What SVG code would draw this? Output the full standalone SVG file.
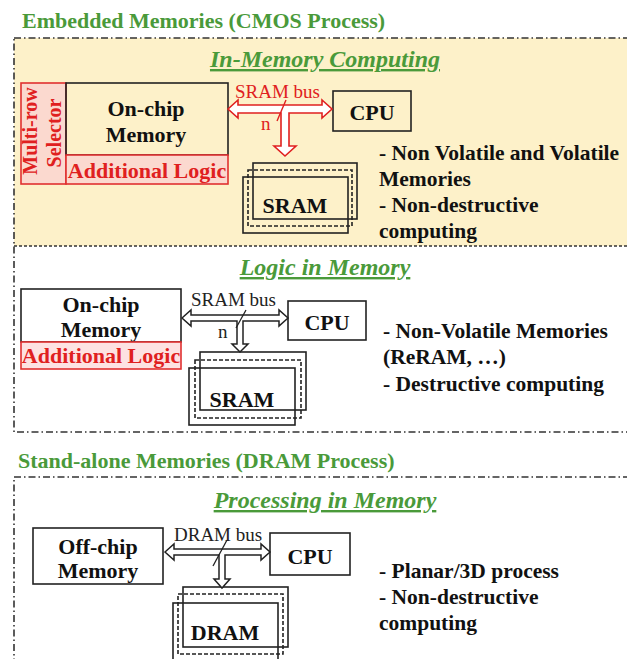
<svg xmlns="http://www.w3.org/2000/svg" width="627" height="659" viewBox="0 0 627 659" font-family="'Liberation Serif', 'DejaVu Serif', serif">
<style>
text{font-family:'Liberation Serif','DejaVu Serif',serif;font-weight:bold}
.hdr{fill:#4a9a3a;font-size:22px}
.sec{fill:#4a9a3a;font-size:24px;font-style:italic;text-decoration:underline}
.t{fill:#111;font-size:22px}
.d{fill:#111;font-size:21.5px}
.r{fill:#e02020}
.box{fill:none;stroke:#222;stroke-width:1.6}
.rbox{stroke:#e03030;stroke-width:1.6}
.frame{fill:none;stroke:#333;stroke-width:1.6;stroke-dasharray:7 3 1.5 3}
.sep{fill:none;stroke:#333;stroke-width:1.6;stroke-dasharray:3 2}
.bus{font-size:19px;font-weight:normal}
</style>
<rect x="14" y="38" width="620" height="208" fill="#fdf1c9"/>
<text class="hdr" x="22" y="28">Embedded Memories (CMOS Process)</text>
<rect class="frame" x="14" y="38" width="620" height="394"/>
<line class="sep" x1="14" y1="246" x2="627" y2="246"/>
<text class="hdr" x="18" y="468">Stand-alone Memories (DRAM Process)</text>
<path class="frame" d="M630,477 H14 V665"/>

<g id="sec1">
<text class="sec" x="325" y="67" text-anchor="middle">In-Memory Computing</text>
<g id="selector1"><rect class="rbox" x="21" y="83" width="45" height="101" fill="#fbd9cf"/>
<text class="r" font-size="20" transform="translate(37,131) rotate(-90)" text-anchor="middle">Multi-row</text>
<text class="r" font-size="20" transform="translate(61,133) rotate(-90)" text-anchor="middle">Selector</text></g>
<g id="mem1"><rect class="box" x="66" y="83" width="162" height="72" fill="#fdf1c9"/>
<text class="t" x="146" y="116" text-anchor="middle">On-chip</text>
<text class="t" x="146" y="142" text-anchor="middle">Memory</text></g>
<g id="logic1"><rect class="rbox" x="66" y="155" width="162" height="29" fill="#fbd9cf"/>
<text class="t r" x="147" y="178" text-anchor="middle">Additional Logic</text></g>
<g id="cpu1"><rect class="box" x="333" y="91" width="78" height="40" fill="#fdf1c9"/>
<text class="t" x="372" y="120" text-anchor="middle">CPU</text></g>
<g id="sram1"><rect class="box" x="253" y="163" width="104" height="56" fill="#fdf1c9"/>
<rect class="box" x="248" y="170" width="104" height="56" fill="#fdf1c9" stroke-dasharray="4 2"/>
<rect class="box" x="243" y="177" width="105" height="56" fill="#fdf1c9"/>
<text class="t" x="295" y="213" text-anchor="middle">SRAM</text></g>
<g id="desc1"><text class="d" x="379" y="160">- Non Volatile and Volatile</text>
<text class="d" x="379" y="186">Memories</text>
<text class="d" x="379" y="212">- Non-destructive</text>
<text class="d" x="379" y="238">computing</text></g>
</g>

<g id="sec2">
<text class="sec" x="325" y="275" text-anchor="middle">Logic in Memory</text>
<g id="mem2"><rect class="box" x="21" y="289" width="160" height="53" fill="#fff"/>
<text class="t" x="101" y="312" text-anchor="middle">On-chip</text>
<text class="t" x="101" y="337" text-anchor="middle">Memory</text></g>
<g id="logic2"><rect class="rbox" x="21" y="342" width="160" height="27" fill="#fde2e2"/>
<text class="t r" x="101" y="363" text-anchor="middle">Additional Logic</text></g>
<g id="cpu2"><rect class="box" x="288" y="301" width="78" height="39" fill="#fff"/>
<text class="t" x="327" y="330" text-anchor="middle">CPU</text></g>
<g id="sram2"><rect class="box" x="200" y="352" width="106" height="58" fill="#fff"/>
<rect class="box" x="195" y="360" width="106" height="58" fill="#fff" stroke-dasharray="4 2"/>
<rect class="box" x="189" y="368" width="106" height="57" fill="#fff"/>
<text class="t" x="242" y="407" text-anchor="middle">SRAM</text></g>
<g id="desc2"><text class="d" x="383" y="338">- Non-Volatile Memories</text>
<text class="d" x="383" y="364">(ReRAM, …)</text>
<text class="d" x="383" y="391">- Destructive computing</text></g>
</g>

<g id="sec3">
<text class="sec" x="325" y="508" text-anchor="middle">Processing in Memory</text>
<g id="mem3"><rect class="box" x="33" y="528" width="130" height="56" fill="#fff"/>
<text class="t" x="98" y="554" text-anchor="middle">Off-chip</text>
<text class="t" x="98" y="578" text-anchor="middle">Memory</text></g>
<g id="cpu3"><rect class="box" x="270" y="533" width="80" height="42" fill="#fff"/>
<text class="t" x="310" y="564" text-anchor="middle">CPU</text></g>
<g id="dram3"><rect class="box" x="183" y="587" width="105" height="60" fill="#fff"/>
<rect class="box" x="178" y="594" width="105" height="60" fill="#fff" stroke-dasharray="4 2"/>
<rect class="box" x="173" y="603" width="105" height="60" fill="#fff"/>
<text class="t" x="225" y="640" text-anchor="middle">DRAM</text></g>
<g id="desc3"><text class="d" x="379" y="578">- Planar/3D process</text>
<text class="d" x="379" y="604">- Non-destructive</text>
<text class="d" x="379" y="630">computing</text></g>
</g>

<g id="connectors">
<path d="M228,109 L238,100 L238,105 L322,105 L322,100 L332,109 L322,118 L322,113 L289,113 L289,146 L296,146 L285,156 L274,146 L281,146 L281,113 L238,113 L238,118 Z" fill="#fff" stroke="#e02020" stroke-width="1.6"/>
<line x1="277" y1="121" x2="286" y2="100" stroke="#e02020" stroke-width="1.4"/>
<text class="r bus" x="235" y="98">SRAM bus</text>
<text class="r bus" x="261" y="130" font-size="16">n</text>

<path d="M182,318 L191,310 L191,315 L279,315 L279,310 L288,318 L279,326 L279,321 L243,321 L243,344 L248,344 L240,352 L232,344 L237,344 L237,321 L191,321 L191,326 Z" fill="#fff" stroke="#222" stroke-width="1.5"/>
<line x1="236" y1="328" x2="246" y2="310" stroke="#222" stroke-width="1.3"/>
<text class="bus" x="191" y="306" fill="#222">SRAM bus</text>
<text class="bus" x="218" y="338" fill="#222" font-size="16">n</text>

<path d="M165,552 L174,544 L174,549 L261,549 L261,544 L270,552 L261,560 L261,555 L225,555 L225,579 L230,579 L222,588 L214,579 L219,579 L219,555 L174,555 L174,560 Z" fill="#fff" stroke="#222" stroke-width="1.5"/>
<line x1="213" y1="566" x2="227" y2="540" stroke="#222" stroke-width="1.3"/>
<text class="bus" x="174" y="541" fill="#222">DRAM bus</text>
</g>
</svg>
